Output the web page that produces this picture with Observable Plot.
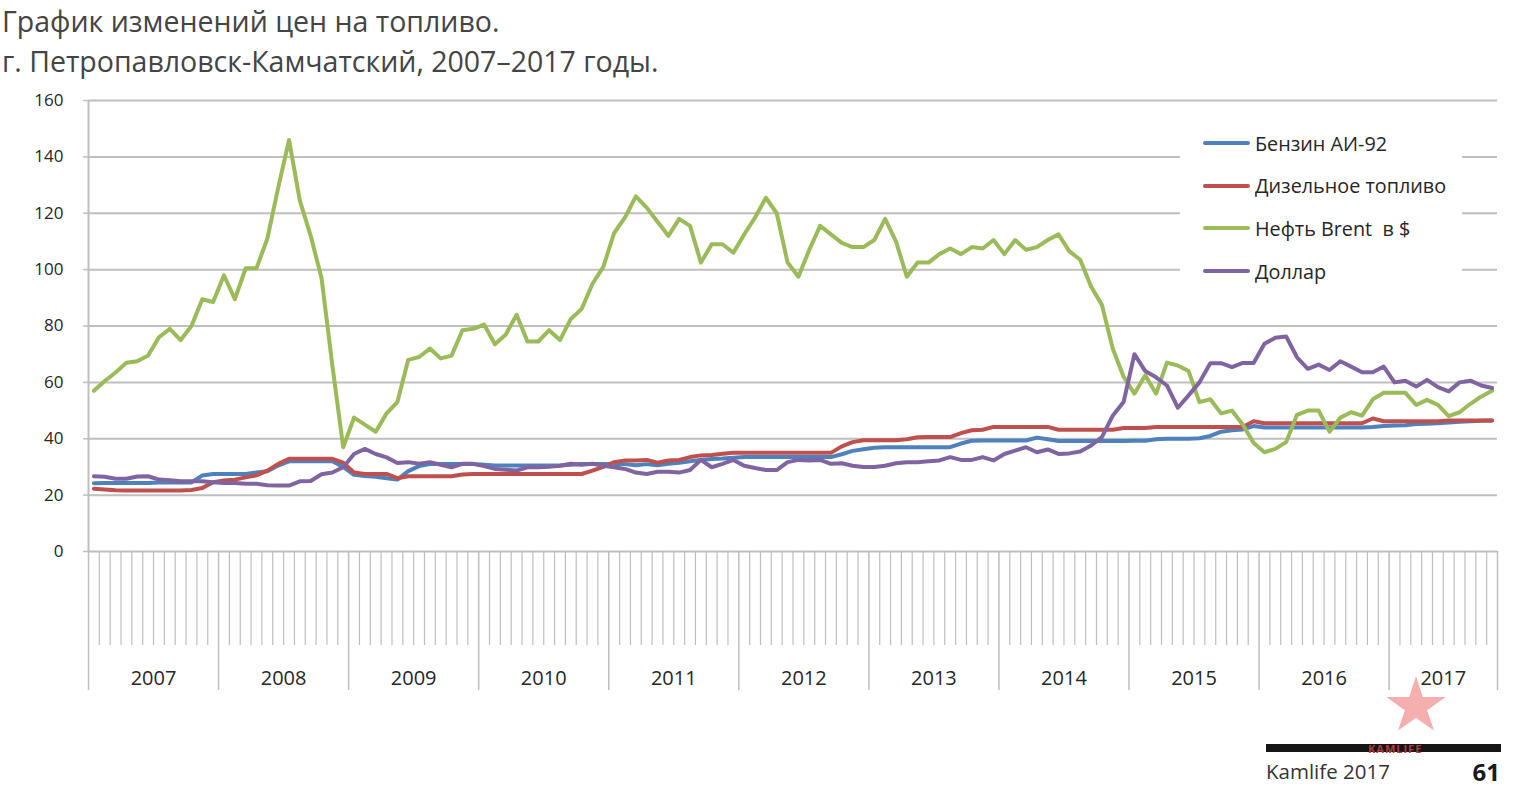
<!DOCTYPE html>
<html>
<head>
<meta charset="utf-8">
<script src="https://cdn.jsdelivr.net/npm/d3@7"></script>
<script src="https://cdn.jsdelivr.net/npm/@observablehq/plot@0.6"></script>
<style>
  html, body { margin: 0; padding: 0; background: #fff; }
  #page { position: relative; width: 1516px; height: 789px; overflow: hidden; font-family: "Open Sans", sans-serif; }
  #title { position: absolute; left: 2px; top: 1px; font-size: 28.5px; line-height: 40px; color: #444; white-space: nowrap; }
  #chart { position: absolute; left: 0; top: 0; }
  #legend { position: absolute; left: 1180px; top: 112px; width: 282px; height: 188px; background: #fff; }
  .item { position: absolute; left: 23px; height: 26px; display: flex; align-items: center; font-size: 19.8px; color: #262626; white-space: pre; }
  .swatch { width: 47px; height: 4px; border-radius: 2px; margin-right: 5px; }
  #bar { position: absolute; left: 1266px; top: 744px; width: 235px; height: 8px; background: #161616; }
  #src { position: absolute; left: 1266px; top: 757px; font-size: 20.5px; color: #333; }
  #page-no { position: absolute; right: 16px; top: 755px; font-size: 24px; font-weight: bold; color: #1a1a1a; }
  #star { position: absolute; left: 1385px; top: 676px; width: 62px; height: 60px; background: rgba(238, 110, 110, 0.55);
          clip-path: polygon(50% 0%, 61% 35%, 98% 35%, 68% 57%, 79% 91%, 50% 70%, 21% 91%, 32% 57%, 2% 35%, 39% 35%); }
  #wm { position: absolute; left: 1368px; top: 741px; font-size: 11px; font-weight: bold; letter-spacing: 1px; color: #b23a3a; }
</style>
</head>
<body>
<div id="page">
  <div id="chart"></div>
  <div id="title">График изменений цен на топливо.<br>г. Петропавловск-Камчатский, 2007–2017 годы.</div>
  <div id="legend"></div>
  <div id="star"></div>
  <div id="bar"></div>
  <div id="wm">KAMLIFE</div>
  <div id="src">Kamlife 2017</div>
  <div id="page-no">61</div>
</div>
<script>
// ---- Data (monthly, Jan 2007 – Oct 2017) ----
const years = ["2007","2008","2009","2010","2011","2012","2013","2014","2015","2016","2017"];
const monthsPerYear = [12,12,12,12,12,12,12,12,12,12,10];

const benzin = [
  24.2,24.3,24.3,24.3,24.3,24.3,24.5,24.5,24.5,24.5,27,27.5,
  27.5,27.5,27.5,28,28.5,30.5,32,32,32,32,32,30,
  27.2,26.8,26.5,26,25.5,28.5,30.3,31,31,31,31,31,
  30.8,30.5,30.5,30.5,30.5,30.5,30.5,30.5,30.8,31,31,31,
  31,31,30.6,31,30.6,31.1,31.5,32,32.5,32.8,33,33.3,
  33.5,33.5,33.5,33.5,33.5,33.5,33.5,33.5,33.5,34.5,35.7,36.3,
  36.8,37,37,37,37,37,37,37,38.3,39.3,39.4,39.4,
  39.4,39.4,39.4,40.4,39.8,39.2,39.2,39.2,39.2,39.2,39.2,39.2,
  39.3,39.3,39.8,40,40,40,40.2,41,42.5,43,43.3,44.5,
  44,44,44,44,44,44,44,44,44,44,44.2,44.5,
  44.7,44.8,45.2,45.3,45.5,45.8,46,46.2,46.4,46.5
];
const diesel = [
  22.3,22,21.7,21.6,21.6,21.6,21.6,21.6,21.6,21.8,22.5,24.6,
  25.2,25.5,26.3,27,28.7,31.1,32.9,32.9,32.9,32.9,32.9,31.5,
  28,27.5,27.5,27.5,26,26.7,26.7,26.7,26.7,26.7,27.3,27.5,
  27.5,27.5,27.5,27.5,27.5,27.5,27.5,27.5,27.5,27.5,28.7,30,
  31.7,32.3,32.3,32.5,31.5,32.3,32.5,33.5,34.1,34.2,34.7,35,
  35,35,35,35,35,35,35,35,35,37.3,38.8,39.5,
  39.5,39.5,39.5,39.8,40.5,40.6,40.6,40.6,42,43,43.2,44.2,
  44.2,44.2,44.2,44.2,44.2,43.2,43.2,43.2,43.2,43.2,43.2,43.8,
  43.8,43.8,44.2,44.2,44.2,44.2,44.2,44.2,44.2,44.2,44.2,46.2,
  45.5,45.5,45.5,45.5,45.5,45.5,45.5,45.5,45.5,45.5,47.2,46.2,
  46.2,46.2,46.2,46.2,46.2,46.5,46.5,46.5,46.5,46.5
];
const brent = [
  57,60.5,63.5,67,67.5,69.5,76,79,75,80,89.5,88.5,
  98,89.5,100.5,100.5,111,129,146,124.5,112,97,66,37,
  47.5,45,42.5,49,53,68,69,72,68.5,69.5,78.5,79,
  80.5,73.5,77,84,74.5,74.5,78.5,75,82.5,86,95,101,
  113,118.5,126,122,117,112,118,115.5,102.5,109,109,106,
  112.5,118.5,125.5,120,102.5,97.5,107,115.5,112.5,109.5,108,108,
  110.5,118,110,97.5,102.5,102.5,105.5,107.5,105.5,108,107.5,110.5,
  105.5,110.5,107,108,110.5,112.5,106.5,103.5,94,87.5,72,62,
  56,62.5,56,67,66,64,53,54,49,50,45,38.5,
  35.2,36.4,38.8,48.5,50,50,42.5,47.5,49.4,48.2,54,56.3,
  56.3,56.3,52,53.8,52,48,49.4,52.4,55,57
];
const dollar = [
  26.7,26.5,25.8,25.8,26.6,26.7,25.5,25.3,24.9,24.9,24.9,24.6,
  24.3,24.3,24,24,23.5,23.4,23.4,24.9,25,27.4,28,29.9,
  34.6,36.4,34.6,33.4,31.4,31.7,31.1,31.7,30.8,29.9,31.1,31.1,
  30.3,29.3,29,28.7,29.9,29.9,30.1,30.4,31.1,30.8,31.1,30.4,
  29.9,29.3,28,27.5,28.3,28.3,28,28.9,32.5,29.9,31.1,32.5,
  30.4,29.6,28.9,28.9,31.7,32.5,32.3,32.5,31.1,31.3,30.4,30,
  30,30.4,31.3,31.7,31.7,32,32.3,33.5,32.5,32.5,33.5,32.3,
  34.6,35.8,37,35.2,36.2,34.6,34.8,35.5,37.6,40.6,48.2,53,
  70,64,61.8,58.9,51,55.4,60,66.8,66.8,65.4,66.9,66.9,
  73.7,75.8,76.3,68.9,64.8,66.3,64.4,67.5,65.6,63.6,63.6,65.6,
  60,60.6,58.5,60.9,58.3,56.8,60,60.6,58.9,58
];
const seriesNames = ["Бензин АИ-92", "Дизельное топливо", "Нефть Brent  в $", "Доллар"];
const seriesColors = ["#4f81bd", "#c0504d", "#9bbb59", "#8064a2"];
const yTicks = [0, 20, 40, 60, 80, 100, 120, 140, 160];

// ---- Build table ----
const allSeries = [benzin, diesel, brent, dollar];
const rows = [];
allSeries.forEach((vals, s) => vals.forEach((v, i) => rows.push({ s: seriesNames[s], idx: i + 0.5, v })));

const nMonths = d3.sum(monthsPerYear);
const yearStarts = d3.cumsum([0, ...monthsPerYear]);
const yearCenters = years.map((y, k) => yearStarts[k] + monthsPerYear[k] / 2);
const monthBounds = d3.range(0, nMonths + 1).filter(m => !yearStarts.includes(m));

const gridColor = "#bfbfbf";

const plot = Plot.plot({
  width: 1516,
  height: 700,
  marginLeft: 88,
  marginRight: 19,
  marginTop: 100,
  marginBottom: 149,
  style: { fontFamily: "Open Sans, sans-serif", background: "transparent", overflow: "visible" },
  x: { domain: [0, nMonths] },
  y: { domain: [0, 160] },
  color: { domain: seriesNames, range: seriesColors },
  marks: [
    Plot.gridY(yTicks.filter(d => d > 0), { stroke: gridColor, strokeOpacity: 1, strokeWidth: 2 }),
    Plot.ruleY([0], { stroke: gridColor, strokeWidth: 2 }),
    Plot.ruleX([0], { stroke: gridColor, strokeWidth: 2 }),
    Plot.axisY({ ticks: yTicks, tickSize: 5, tickPadding: 20, fontSize: 17, stroke: gridColor, strokeWidth: 1.5, fill: "#262626", label: null }),
    Plot.axisX({ ticks: monthBounds, tickSize: 94, tickFormat: () => "", stroke: gridColor, strokeWidth: 1.2, label: null }),
    Plot.axisX({ ticks: yearStarts, tickSize: 139, tickFormat: () => "", stroke: gridColor, strokeWidth: 1.5, label: null }),
    Plot.axisX({ ticks: yearCenters, tickSize: 0, tickPadding: 119, tickFormat: (d) => years[yearCenters.indexOf(d)], fontSize: 20, fill: "#262626", label: null }),
    Plot.line(rows, {
      x: "idx", y: "v", z: "s",
      stroke: "s",
      strokeWidth: 4, strokeLinejoin: "round", strokeLinecap: "round"
    })
  ]
});
document.getElementById("chart").appendChild(plot);

// ---- Legend ----
const legend = document.getElementById("legend");
seriesNames.forEach((name, k) => {
  const it = document.createElement("div");
  it.className = "item";
  it.style.top = (18 + k * 42.7) + "px";
  const sw = document.createElement("div");
  sw.className = "swatch";
  sw.style.background = seriesColors[k];
  const tx = document.createElement("span");
  tx.textContent = name;
  it.appendChild(sw); it.appendChild(tx);
  legend.appendChild(it);
});
</script>
</body>
</html>
